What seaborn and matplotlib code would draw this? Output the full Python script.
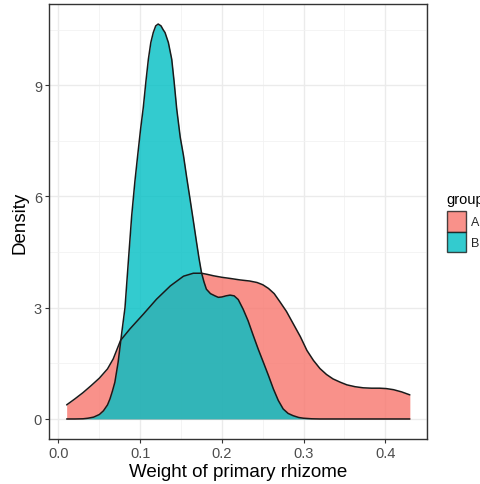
import numpy as np
import pandas as pd
import matplotlib
matplotlib.use("Agg")
import matplotlib.pyplot as plt
from matplotlib.patches import Patch
from matplotlib.ticker import MultipleLocator
import seaborn as sns

# ---- data (density curves) ----
groups = ["A", "B"]
colors = {"A": "#F8766D", "B": "#00BFC4"}

a_x = [0.010, 0.020, 0.030, 0.040, 0.050, 0.060, 0.067, 0.076, 0.0875, 0.104, 0.120, 0.137,
       0.153, 0.165, 0.175, 0.182, 0.190, 0.200, 0.210, 0.222, 0.234, 0.243, 0.250,
       0.257, 0.264, 0.271, 0.279, 0.287, 0.296, 0.304, 0.312, 0.320, 0.328, 0.336, 0.345,
       0.353, 0.363, 0.373, 0.383, 0.393, 0.401, 0.410, 0.420, 0.430]
a_d = [0.38, 0.54, 0.71, 0.90, 1.10, 1.35, 1.62, 2.12, 2.43, 2.83, 3.23, 3.59,
       3.85, 3.93, 3.93, 3.90, 3.86, 3.82, 3.79, 3.75, 3.72, 3.68, 3.62,
       3.52, 3.38, 3.16, 2.90, 2.58, 2.22, 1.85, 1.58, 1.36, 1.20, 1.08, 0.99,
       0.92, 0.87, 0.84, 0.83, 0.83, 0.82, 0.79, 0.73, 0.65]

b_x = [0.010, 0.020, 0.030, 0.036, 0.043, 0.050, 0.055, 0.060, 0.063, 0.066, 0.069, 0.073,
       0.077, 0.0814, 0.0855, 0.0896, 0.0935, 0.0969, 0.1004, 0.1038, 0.107, 0.110, 0.113,
       0.116, 0.119, 0.122, 0.1255, 0.1280, 0.1304, 0.1345, 0.1386, 0.1415, 0.1447, 0.149,
       0.153, 0.157, 0.161, 0.165, 0.169, 0.172, 0.175, 0.178, 0.181, 0.186, 0.1915, 0.1956,
       0.200, 0.205, 0.210, 0.215, 0.220, 0.226, 0.232, 0.2384, 0.2445, 0.2507, 0.257, 0.263,
       0.269, 0.275, 0.281, 0.287, 0.294, 0.300, 0.310, 0.320, 0.340, 0.380, 0.430]
b_d = [0.0, 0.0, 0.005, 0.02, 0.05, 0.12, 0.22, 0.38, 0.54, 0.75, 0.99, 1.53,
       2.25, 3.0, 4.25, 5.48, 6.4, 7.1, 7.8, 8.4, 9.1, 9.7, 10.15,
       10.42, 10.6, 10.65, 10.6, 10.5, 10.42, 10.15, 9.7, 9.1, 8.36, 7.6,
       7.1, 6.5, 5.93, 5.35, 4.76, 4.33, 3.95, 3.7, 3.5, 3.38, 3.32, 3.28,
       3.29, 3.32, 3.34, 3.32, 3.22, 2.96, 2.65, 2.25, 1.88, 1.53, 1.17, 0.81,
       0.50, 0.27, 0.15, 0.09, 0.04, 0.02, 0.005, 0.0, 0.0, 0.0, 0.0]

x_ticks = [0.0, 0.1, 0.2, 0.3, 0.4]
x_tick_labels = ["0.0", "0.1", "0.2", "0.3", "0.4"]
y_ticks = [0, 3, 6, 9]
y_tick_labels = ["0", "3", "6", "9"]

df = pd.concat([
    pd.DataFrame({"x": a_x, "density": a_d, "group": "A"}),
    pd.DataFrame({"x": b_x, "density": b_d, "group": "B"}),
], ignore_index=True)

# ---- figure ----
sns.set_theme(style="white")
plt.rcParams["font.family"] = ["Liberation Sans", "DejaVu Sans"]

W, H = 481, 485
fig = plt.figure(figsize=(W / 100, H / 100), dpi=100)
ax = fig.add_axes([49 / W, 1 - 440 / H, (427 - 49) / W, (440 - 5) / H])

alpha = 0.8
for g in groups:
    sub = df[df["group"] == g]
    ax.fill_between(sub["x"], 0, sub["density"], color=colors[g], alpha=alpha,
                    linewidth=0, zorder=2)
    sns.lineplot(data=sub, x="x", y="density", color="#1a1a1a", linewidth=1.1,
                 estimator=None, sort=False, legend=False, ax=ax, zorder=3)

ax.set_xlim(-0.0116, 0.451)
ax.set_ylim(-0.54, 11.19)

ax.set_xticks(x_ticks)
ax.set_xticklabels(x_tick_labels)
ax.set_yticks(y_ticks)
ax.set_yticklabels(y_tick_labels)
ax.xaxis.set_minor_locator(MultipleLocator(0.05))
ax.yaxis.set_minor_locator(MultipleLocator(1.5))

ax.grid(which="major", color="#EBEBEB", linewidth=1.0, zorder=0)
ax.grid(which="minor", color="#F2F2F2", linewidth=0.6, zorder=0)
ax.set_axisbelow(True)

for s in ax.spines.values():
    s.set_color("#333333")
    s.set_linewidth(1.0)

ax.tick_params(axis="both", which="major", length=3, width=0.8, color="#333333",
               labelcolor="#4D4D4D", labelsize=10.5, pad=2, bottom=True, left=True)
ax.tick_params(axis="both", which="minor", length=0)

ax.set_xlabel("Weight of primary rhizome", fontsize=13.5, color="black", labelpad=2)
ax.set_ylabel("Density", fontsize=13.5, color="black", labelpad=4)

# legend (title drawn separately to match the ggplot spacing)
fig.text(446 / W, 1 - 200 / H, "group", fontsize=10.5, color="black",
         ha="left", va="center")
handles = [Patch(facecolor=colors[g], alpha=alpha, edgecolor="#1a1a1a", linewidth=1.0)
           for g in groups]
leg = fig.legend(handles, groups, loc="upper left",
                 bbox_to_anchor=(447 / W, 1 - 212 / H), frameon=False,
                 fontsize=9, handlelength=1.55, handleheight=2.15,
                 labelspacing=0.0, borderpad=0.0, handletextpad=0.35, borderaxespad=0)

fig.savefig("out.png", dpi=100)
